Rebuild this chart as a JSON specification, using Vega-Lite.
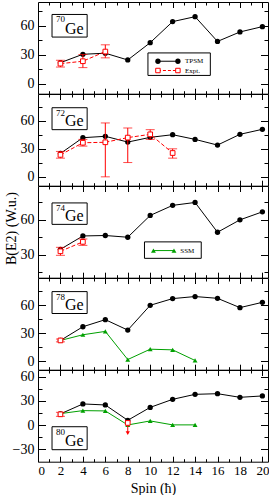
{
"$schema": "https://vega.github.io/schema/vega-lite/v6.json",
"padding": {"left": 3, "top": 1, "right": 0, "bottom": 0},
"background": "white",
"spacing": 0,
"bounds": "flush",
"resolve": {"scale": {"x": "independent", "y": "independent"}},
"config": {
 "concat": {"spacing": 0},
 "view": {"stroke": "black", "strokeWidth": 1},
 "axis": {"domain": false, "grid": false, "tickColor": "black", "tickWidth": 1, "labelFont": "Liberation Serif", "labelFontSize": 14, "labelColor": "black", "titleFont": "Liberation Serif", "titleFontSize": 14, "titleFontWeight": "normal", "titleColor": "black"},
 "text": {"font": "Liberation Serif", "color": "black"}
},
"datasets": {
 "tpsm": [
  {"nuc":"70Ge","spin":2,"b":22},{"nuc":"70Ge","spin":4,"b":30.7},{"nuc":"70Ge","spin":6,"b":31.8},{"nuc":"70Ge","spin":8,"b":24.8},{"nuc":"70Ge","spin":10,"b":42.7},{"nuc":"70Ge","spin":12,"b":64.5},{"nuc":"70Ge","spin":14,"b":69.6},{"nuc":"70Ge","spin":16,"b":44},{"nuc":"70Ge","spin":18,"b":53.8},{"nuc":"70Ge","spin":20,"b":59.3},
  {"nuc":"72Ge","spin":2,"b":25},{"nuc":"72Ge","spin":4,"b":41.9},{"nuc":"72Ge","spin":6,"b":43.4},{"nuc":"72Ge","spin":8,"b":37.2},{"nuc":"72Ge","spin":10,"b":42.3},{"nuc":"72Ge","spin":12,"b":45.1},{"nuc":"72Ge","spin":14,"b":40.1},{"nuc":"72Ge","spin":16,"b":34},{"nuc":"72Ge","spin":18,"b":45.5},{"nuc":"72Ge","spin":20,"b":50.9},
  {"nuc":"74Ge","spin":2,"b":34.6},{"nuc":"74Ge","spin":4,"b":46.1},{"nuc":"74Ge","spin":6,"b":46.5},{"nuc":"74Ge","spin":8,"b":45},{"nuc":"74Ge","spin":10,"b":63.8},{"nuc":"74Ge","spin":12,"b":72.5},{"nuc":"74Ge","spin":14,"b":75},{"nuc":"74Ge","spin":16,"b":49.3},{"nuc":"74Ge","spin":18,"b":60},{"nuc":"74Ge","spin":20,"b":66.9},
  {"nuc":"78Ge","spin":2,"b":22.3},{"nuc":"78Ge","spin":4,"b":37},{"nuc":"78Ge","spin":6,"b":44.6},{"nuc":"78Ge","spin":8,"b":33.4},{"nuc":"78Ge","spin":10,"b":60},{"nuc":"78Ge","spin":12,"b":67.2},{"nuc":"78Ge","spin":14,"b":69.4},{"nuc":"78Ge","spin":16,"b":67.5},{"nuc":"78Ge","spin":18,"b":57.5},{"nuc":"78Ge","spin":20,"b":63.2},
  {"nuc":"80Ge","spin":2,"b":13.9},{"nuc":"80Ge","spin":4,"b":26.3},{"nuc":"80Ge","spin":6,"b":25},{"nuc":"80Ge","spin":8,"b":6},{"nuc":"80Ge","spin":10,"b":22},{"nuc":"80Ge","spin":12,"b":32},{"nuc":"80Ge","spin":14,"b":38.2},{"nuc":"80Ge","spin":16,"b":39},{"nuc":"80Ge","spin":18,"b":34.5},{"nuc":"80Ge","spin":20,"b":36.2}
 ],
 "expt": [
  {"nuc":"70Ge","spin":2,"b":21},{"nuc":"70Ge","spin":4,"b":23.5},{"nuc":"70Ge","spin":6,"b":33.5},
  {"nuc":"72Ge","spin":2,"b":23.5},{"nuc":"72Ge","spin":4,"b":36.5},{"nuc":"72Ge","spin":6,"b":37},{"nuc":"72Ge","spin":8,"b":42},{"nuc":"72Ge","spin":10,"b":45.5},{"nuc":"72Ge","spin":12,"b":25.5},
  {"nuc":"74Ge","spin":2,"b":32.9},{"nuc":"74Ge","spin":4,"b":41},
  {"nuc":"78Ge","spin":2,"b":22.3},
  {"nuc":"80Ge","spin":2,"b":13.4}
 ],
 "err": [
  {"nuc":"70Ge","spin":2,"lo":17.5,"hi":24.5},{"nuc":"70Ge","spin":4,"lo":16.9,"hi":30.5},{"nuc":"70Ge","spin":6,"lo":27,"hi":40.5},
  {"nuc":"72Ge","spin":2,"lo":20,"hi":27.2},{"nuc":"72Ge","spin":4,"lo":32.9,"hi":40.1},{"nuc":"72Ge","spin":6,"lo":0,"hi":57.7},{"nuc":"72Ge","spin":8,"lo":15.3,"hi":52.3},{"nuc":"72Ge","spin":10,"lo":40.1,"hi":50.5},{"nuc":"72Ge","spin":12,"lo":20,"hi":30},
  {"nuc":"74Ge","spin":2,"lo":29.4,"hi":36.3},{"nuc":"74Ge","spin":4,"lo":38,"hi":43.5},
  {"nuc":"78Ge","spin":2,"lo":20.8,"hi":23.8},
  {"nuc":"80Ge","spin":2,"lo":10.9,"hi":15.9}
 ],
 "ssm": [
  {"nuc":"78Ge","spin":2,"b":22.3},{"nuc":"78Ge","spin":4,"b":28.4},{"nuc":"78Ge","spin":6,"b":32},{"nuc":"78Ge","spin":8,"b":1.8},{"nuc":"78Ge","spin":10,"b":12.9},{"nuc":"78Ge","spin":12,"b":12.2},{"nuc":"78Ge","spin":14,"b":0.8},
  {"nuc":"80Ge","spin":2,"b":14.3},{"nuc":"80Ge","spin":4,"b":18},{"nuc":"80Ge","spin":6,"b":17.6},{"nuc":"80Ge","spin":8,"b":0.2},{"nuc":"80Ge","spin":10,"b":5.2},{"nuc":"80Ge","spin":12,"b":0.3},{"nuc":"80Ge","spin":14,"b":0.3}
 ],
 "lim": [{"nuc":"80Ge","spin":8,"b":2.7,"lim":-10}]
},
"vconcat": [
 {
  "width": 230, "height": 91.7,
  "resolve": {"axis": {"x": "independent", "y": "independent"}},
  "layer": [
   {"data":{"name":"tpsm"},"transform":[{"filter":"datum.nuc=='70Ge'"}],"mark":{"type":"line","color":"black","strokeWidth":1},
    "encoding":{"x":{"field":"spin","type":"quantitative","scale":{"domain":[0,20.5],"nice":false,"zero":false},"axis":{"orient":"bottom","values":[2,4,6,8,10,12,14,16,18,20],"tickSize":-5.5,"labels":false,"title":null}},
     "y":{"field":"b","type":"quantitative","scale":{"domain":[-10.1,84.8],"nice":false,"zero":false},"axis":{"orient":"left","values":[0,30,60],"tickSize":-7.5,"labelPadding":11.5,"title":null}}}},
   {"data":{"name":"tpsm"},"transform":[{"filter":"datum.nuc=='70Ge'"}],"mark":{"type":"point","filled":true,"color":"black","size":28,"opacity":1},
    "encoding":{"x":{"field":"spin","type":"quantitative","axis":{"orient":"bottom","values":[1,3,5,7,9,11,13,15,17,19],"tickSize":-3,"labels":false,"title":null}},
     "y":{"field":"b","type":"quantitative","axis":{"orient":"left","values":[15,45,75],"tickSize":-4,"labels":false,"title":null}}}},
   {"data":{"name":"err"},"transform":[{"filter":"datum.nuc=='70Ge'"}],"mark":{"type":"errorbar","ticks":true,"size":9,"color":"#ff0000","thickness":1},
    "encoding":{"x":{"field":"spin","type":"quantitative","axis":null},"y":{"field":"lo","type":"quantitative","axis":null},"y2":{"field":"hi"}}},
   {"data":{"name":"expt"},"transform":[{"filter":"datum.nuc=='70Ge'"}],"mark":{"type":"line","color":"#ff0000","strokeWidth":1,"strokeDash":[4,2]},
    "encoding":{"x":{"field":"spin","type":"quantitative","axis":{"orient":"top","values":[2,4,6,8,10,12,14,16,18,20],"tickSize":-5.5,"labels":false,"title":null}},
     "y":{"field":"b","type":"quantitative","axis":{"orient":"right","values":[0,30,60],"tickSize":-7.5,"labels":false,"title":null}}}},
   {"data":{"name":"expt"},"transform":[{"filter":"datum.nuc=='70Ge'"}],"mark":{"type":"point","shape":"square","fill":"white","stroke":"#ff0000","strokeWidth":1,"size":22,"opacity":1},
    "encoding":{"x":{"field":"spin","type":"quantitative","axis":{"orient":"top","values":[1,3,5,7,9,11,13,15,17,19],"tickSize":-3,"labels":false,"title":null}},
     "y":{"field":"b","type":"quantitative","axis":{"orient":"right","values":[15,45,75],"tickSize":-4,"labels":false,"title":null}}}},
   {"data":{"values":[{}]},"mark":{"type":"rect","fill":"white","stroke":"black","strokeWidth":1},
    "encoding":{"x":{"datum":1.25,"type":"quantitative","axis":null},"x2":{"datum":4.38},"y":{"datum":71.9,"type":"quantitative","axis":null},"y2":{"datum":48.5}}},
   {"data":{"values":[{}]},"mark":{"type":"text","text":"70","fontSize":9,"align":"left","baseline":"alphabetic"},
    "encoding":{"x":{"datum":1.61,"type":"quantitative","axis":null},"y":{"datum":63.6,"type":"quantitative","axis":null}}},
   {"data":{"values":[{}]},"mark":{"type":"text","text":"Ge","fontSize":16,"align":"left","baseline":"alphabetic"},
    "encoding":{"x":{"datum":2.41,"type":"quantitative","axis":null},"y":{"datum":51.9,"type":"quantitative","axis":null}}},
   {"data":{"values":[{}]},"mark":{"type":"rect","fill":"white","stroke":"black","strokeWidth":1},
    "encoding":{"x":{"datum":9.8,"type":"quantitative","axis":null},"x2":{"datum":15.36},"y":{"datum":32.1,"type":"quantitative","axis":null},"y2":{"datum":8.8}}},
   {"data":{"values":[{}]},"mark":{"type":"rule","color":"black","strokeWidth":1},
    "encoding":{"x":{"datum":10.69,"type":"quantitative","axis":null},"x2":{"datum":12.47},"y":{"datum":23.5,"type":"quantitative","axis":null}}},
   {"data":{"values":[{}]},"mark":{"type":"point","filled":true,"color":"black","size":28,"opacity":1},
    "encoding":{"x":{"datum":10.69,"type":"quantitative","axis":null},"y":{"datum":23.5,"type":"quantitative","axis":null}}},
   {"data":{"values":[{}]},"mark":{"type":"point","filled":true,"color":"black","size":28,"opacity":1},
    "encoding":{"x":{"datum":12.47,"type":"quantitative","axis":null},"y":{"datum":23.5,"type":"quantitative","axis":null}}},
   {"data":{"values":[{}]},"mark":{"type":"text","text":"TPSM","fontSize":7,"align":"left","baseline":"middle"},
    "encoding":{"x":{"datum":13.1,"type":"quantitative","axis":null},"y":{"datum":23.5,"type":"quantitative","axis":null}}},
   {"data":{"values":[{}]},"mark":{"type":"rule","color":"#ff0000","strokeWidth":1,"strokeDash":[3,2]},
    "encoding":{"x":{"datum":10.69,"type":"quantitative","axis":null},"x2":{"datum":12.47},"y":{"datum":13.9,"type":"quantitative","axis":null}}},
   {"data":{"values":[{}]},"mark":{"type":"point","shape":"square","fill":"white","stroke":"#ff0000","strokeWidth":1,"size":20,"opacity":1},
    "encoding":{"x":{"datum":10.69,"type":"quantitative","axis":null},"y":{"datum":13.9,"type":"quantitative","axis":null}}},
   {"data":{"values":[{}]},"mark":{"type":"point","shape":"square","fill":"white","stroke":"#ff0000","strokeWidth":1,"size":20,"opacity":1},
    "encoding":{"x":{"datum":12.47,"type":"quantitative","axis":null},"y":{"datum":13.9,"type":"quantitative","axis":null}}},
   {"data":{"values":[{}]},"mark":{"type":"text","text":"Expt.","fontSize":7,"align":"left","baseline":"middle"},
    "encoding":{"x":{"datum":13.1,"type":"quantitative","axis":null},"y":{"datum":13.9,"type":"quantitative","axis":null}}}
  ]
 },
 {
  "width": 230, "height": 91.7,
  "resolve": {"axis": {"x": "independent", "y": "independent"}},
  "layer": [
   {"data":{"name":"tpsm"},"transform":[{"filter":"datum.nuc=='72Ge'"}],"mark":{"type":"line","color":"black","strokeWidth":1},
    "encoding":{"x":{"field":"spin","type":"quantitative","scale":{"domain":[0,20.5],"nice":false,"zero":false},"axis":{"orient":"bottom","values":[2,4,6,8,10,12,14,16,18,20],"tickSize":-5.5,"labels":false,"title":null}},
     "y":{"field":"b","type":"quantitative","scale":{"domain":[-9.5,88.7],"nice":false,"zero":false},"axis":{"orient":"left","values":[0,30,60],"tickSize":-7.5,"labelPadding":11.5,"title":null}}}},
   {"data":{"name":"tpsm"},"transform":[{"filter":"datum.nuc=='72Ge'"}],"mark":{"type":"point","filled":true,"color":"black","size":28,"opacity":1},
    "encoding":{"x":{"field":"spin","type":"quantitative","axis":{"orient":"bottom","values":[1,3,5,7,9,11,13,15,17,19],"tickSize":-3,"labels":false,"title":null}},
     "y":{"field":"b","type":"quantitative","axis":{"orient":"left","values":[15,45,75],"tickSize":-4,"labels":false,"title":null}}}},
   {"data":{"name":"err"},"transform":[{"filter":"datum.nuc=='72Ge'"}],"mark":{"type":"errorbar","ticks":true,"size":9,"color":"#ff0000","thickness":1},
    "encoding":{"x":{"field":"spin","type":"quantitative","axis":null},"y":{"field":"lo","type":"quantitative","axis":null},"y2":{"field":"hi"}}},
   {"data":{"name":"expt"},"transform":[{"filter":"datum.nuc=='72Ge'"}],"mark":{"type":"line","color":"#ff0000","strokeWidth":1,"strokeDash":[4,2]},
    "encoding":{"x":{"field":"spin","type":"quantitative","axis":{"orient":"top","values":[2,4,6,8,10,12,14,16,18,20],"tickSize":-5.5,"labels":false,"title":null}},
     "y":{"field":"b","type":"quantitative","axis":{"orient":"right","values":[0,30,60],"tickSize":-7.5,"labels":false,"title":null}}}},
   {"data":{"name":"expt"},"transform":[{"filter":"datum.nuc=='72Ge'"}],"mark":{"type":"point","shape":"square","fill":"white","stroke":"#ff0000","strokeWidth":1,"size":22,"opacity":1},
    "encoding":{"x":{"field":"spin","type":"quantitative","axis":{"orient":"top","values":[1,3,5,7,9,11,13,15,17,19],"tickSize":-3,"labels":false,"title":null}},
     "y":{"field":"b","type":"quantitative","axis":{"orient":"right","values":[15,45,75],"tickSize":-4,"labels":false,"title":null}}}},
   {"data":{"values":[{}]},"mark":{"type":"rect","fill":"white","stroke":"black","strokeWidth":1},
    "encoding":{"x":{"datum":1.25,"type":"quantitative","axis":null},"x2":{"datum":4.38},"y":{"datum":74.0,"type":"quantitative","axis":null},"y2":{"datum":50.5}}},
   {"data":{"values":[{}]},"mark":{"type":"text","text":"72","fontSize":9,"align":"left","baseline":"alphabetic"},
    "encoding":{"x":{"datum":1.61,"type":"quantitative","axis":null},"y":{"datum":65.1,"type":"quantitative","axis":null}}},
   {"data":{"values":[{}]},"mark":{"type":"text","text":"Ge","fontSize":16,"align":"left","baseline":"alphabetic"},
    "encoding":{"x":{"datum":2.41,"type":"quantitative","axis":null},"y":{"datum":53.9,"type":"quantitative","axis":null}}}
  ]
 },
 {
  "width": 230, "height": 91.7,
  "resolve": {"axis": {"x": "independent", "y": "independent"}},
  "layer": [
   {"data":{"name":"tpsm"},"transform":[{"filter":"datum.nuc=='74Ge'"}],"mark":{"type":"line","color":"black","strokeWidth":1},
    "encoding":{"x":{"field":"spin","type":"quantitative","scale":{"domain":[0,20.5],"nice":false,"zero":false},"axis":{"orient":"bottom","values":[2,4,6,8,10,12,14,16,18,20],"tickSize":-5.5,"labels":false,"title":null}},
     "y":{"field":"b","type":"quantitative","scale":{"domain":[10.1,89.2],"nice":false,"zero":false},"axis":{"orient":"left","values":[30,60],"tickSize":-7.5,"labelPadding":11.5,"title":"B(E2) (W.u.)","titleX":-27,"titleY":42,"titleBaseline":"middle","titleAlign":"center","titleAngle":-90}}}},
   {"data":{"name":"tpsm"},"transform":[{"filter":"datum.nuc=='74Ge'"}],"mark":{"type":"point","filled":true,"color":"black","size":28,"opacity":1},
    "encoding":{"x":{"field":"spin","type":"quantitative","axis":{"orient":"bottom","values":[1,3,5,7,9,11,13,15,17,19],"tickSize":-3,"labels":false,"title":null}},
     "y":{"field":"b","type":"quantitative","axis":{"orient":"left","values":[15,45,75],"tickSize":-4,"labels":false,"title":null}}}},
   {"data":{"name":"err"},"transform":[{"filter":"datum.nuc=='74Ge'"}],"mark":{"type":"errorbar","ticks":true,"size":9,"color":"#ff0000","thickness":1},
    "encoding":{"x":{"field":"spin","type":"quantitative","axis":null},"y":{"field":"lo","type":"quantitative","axis":null},"y2":{"field":"hi"}}},
   {"data":{"name":"expt"},"transform":[{"filter":"datum.nuc=='74Ge'"}],"mark":{"type":"line","color":"#ff0000","strokeWidth":1,"strokeDash":[4,2]},
    "encoding":{"x":{"field":"spin","type":"quantitative","axis":{"orient":"top","values":[2,4,6,8,10,12,14,16,18,20],"tickSize":-5.5,"labels":false,"title":null}},
     "y":{"field":"b","type":"quantitative","axis":{"orient":"right","values":[30,60],"tickSize":-7.5,"labels":false,"title":null}}}},
   {"data":{"name":"expt"},"transform":[{"filter":"datum.nuc=='74Ge'"}],"mark":{"type":"point","shape":"square","fill":"white","stroke":"#ff0000","strokeWidth":1,"size":22,"opacity":1},
    "encoding":{"x":{"field":"spin","type":"quantitative","axis":{"orient":"top","values":[1,3,5,7,9,11,13,15,17,19],"tickSize":-3,"labels":false,"title":null}},
     "y":{"field":"b","type":"quantitative","axis":{"orient":"right","values":[15,45,75],"tickSize":-4,"labels":false,"title":null}}}},
   {"data":{"values":[{}]},"mark":{"type":"rect","fill":"white","stroke":"black","strokeWidth":1},
    "encoding":{"x":{"datum":1.25,"type":"quantitative","axis":null},"x2":{"datum":4.38},"y":{"datum":74.6,"type":"quantitative","axis":null},"y2":{"datum":56.1}}},
   {"data":{"values":[{}]},"mark":{"type":"text","text":"74","fontSize":9,"align":"left","baseline":"alphabetic"},
    "encoding":{"x":{"datum":1.61,"type":"quantitative","axis":null},"y":{"datum":67.4,"type":"quantitative","axis":null}}},
   {"data":{"values":[{}]},"mark":{"type":"text","text":"Ge","fontSize":16,"align":"left","baseline":"alphabetic"},
    "encoding":{"x":{"datum":2.41,"type":"quantitative","axis":null},"y":{"datum":58.9,"type":"quantitative","axis":null}}},
   {"data":{"values":[{}]},"mark":{"type":"rect","fill":"white","stroke":"black","strokeWidth":1},
    "encoding":{"x":{"datum":9.49,"type":"quantitative","axis":null},"x2":{"datum":14.55},"y":{"datum":41.0,"type":"quantitative","axis":null},"y2":{"datum":26.8}}},
   {"data":{"values":[{}]},"mark":{"type":"rule","color":"#00a000","strokeWidth":1},
    "encoding":{"x":{"datum":10.29,"type":"quantitative","axis":null},"x2":{"datum":12.12},"y":{"datum":33.5,"type":"quantitative","axis":null}}},
   {"data":{"values":[{}]},"mark":{"type":"point","shape":"triangle-up","filled":true,"color":"#00a000","size":24,"opacity":1},
    "encoding":{"x":{"datum":10.29,"type":"quantitative","axis":null},"y":{"datum":33.5,"type":"quantitative","axis":null}}},
   {"data":{"values":[{}]},"mark":{"type":"point","shape":"triangle-up","filled":true,"color":"#00a000","size":24,"opacity":1},
    "encoding":{"x":{"datum":12.12,"type":"quantitative","axis":null},"y":{"datum":33.5,"type":"quantitative","axis":null}}},
   {"data":{"values":[{}]},"mark":{"type":"text","text":"SSM","fontSize":7,"align":"left","baseline":"middle"},
    "encoding":{"x":{"datum":12.68,"type":"quantitative","axis":null},"y":{"datum":33.5,"type":"quantitative","axis":null}}}
  ]
 },
 {
  "width": 230, "height": 91.7,
  "resolve": {"axis": {"x": "independent", "y": "independent"}},
  "layer": [
   {"data":{"name":"tpsm"},"transform":[{"filter":"datum.nuc=='78Ge'"}],"mark":{"type":"line","color":"black","strokeWidth":1},
    "encoding":{"x":{"field":"spin","type":"quantitative","scale":{"domain":[0,20.5],"nice":false,"zero":false},"axis":{"orient":"bottom","values":[2,4,6,8,10,12,14,16,18,20],"tickSize":-5.5,"labels":false,"title":null}},
     "y":{"field":"b","type":"quantitative","scale":{"domain":[-9.1,89.3],"nice":false,"zero":false},"axis":{"orient":"left","values":[0,30,60],"tickSize":-7.5,"labelPadding":11.5,"title":null}}}},
   {"data":{"name":"tpsm"},"transform":[{"filter":"datum.nuc=='78Ge'"}],"mark":{"type":"point","filled":true,"color":"black","size":28,"opacity":1},
    "encoding":{"x":{"field":"spin","type":"quantitative","axis":{"orient":"bottom","values":[1,3,5,7,9,11,13,15,17,19],"tickSize":-3,"labels":false,"title":null}},
     "y":{"field":"b","type":"quantitative","axis":{"orient":"left","values":[15,45,75],"tickSize":-4,"labels":false,"title":null}}}},
   {"data":{"name":"ssm"},"transform":[{"filter":"datum.nuc=='78Ge'"}],"mark":{"type":"line","color":"#00a000","strokeWidth":1},
    "encoding":{"x":{"field":"spin","type":"quantitative","axis":null},"y":{"field":"b","type":"quantitative","axis":null}}},
   {"data":{"name":"ssm"},"transform":[{"filter":"datum.nuc=='78Ge'"}],"mark":{"type":"point","shape":"triangle-up","filled":true,"color":"#00a000","size":24,"opacity":1},
    "encoding":{"x":{"field":"spin","type":"quantitative","axis":null},"y":{"field":"b","type":"quantitative","axis":null}}},
   {"data":{"name":"err"},"transform":[{"filter":"datum.nuc=='78Ge'"}],"mark":{"type":"errorbar","ticks":true,"size":9,"color":"#ff0000","thickness":1},
    "encoding":{"x":{"field":"spin","type":"quantitative","axis":null},"y":{"field":"lo","type":"quantitative","axis":null},"y2":{"field":"hi"}}},
   {"data":{"name":"expt"},"transform":[{"filter":"datum.nuc=='78Ge'"}],"mark":{"type":"line","color":"#ff0000","strokeWidth":1,"strokeDash":[4,2]},
    "encoding":{"x":{"field":"spin","type":"quantitative","axis":{"orient":"top","values":[2,4,6,8,10,12,14,16,18,20],"tickSize":-5.5,"labels":false,"title":null}},
     "y":{"field":"b","type":"quantitative","axis":{"orient":"right","values":[0,30,60],"tickSize":-7.5,"labels":false,"title":null}}}},
   {"data":{"name":"expt"},"transform":[{"filter":"datum.nuc=='78Ge'"}],"mark":{"type":"point","shape":"square","fill":"white","stroke":"#ff0000","strokeWidth":1,"size":22,"opacity":1},
    "encoding":{"x":{"field":"spin","type":"quantitative","axis":{"orient":"top","values":[1,3,5,7,9,11,13,15,17,19],"tickSize":-3,"labels":false,"title":null}},
     "y":{"field":"b","type":"quantitative","axis":{"orient":"right","values":[15,45,75],"tickSize":-4,"labels":false,"title":null}}}},
   {"data":{"values":[{}]},"mark":{"type":"rect","fill":"white","stroke":"black","strokeWidth":1},
    "encoding":{"x":{"datum":1.25,"type":"quantitative","axis":null},"x2":{"datum":4.38},"y":{"datum":74.7,"type":"quantitative","axis":null},"y2":{"datum":51.2}}},
   {"data":{"values":[{}]},"mark":{"type":"text","text":"78","fontSize":9,"align":"left","baseline":"alphabetic"},
    "encoding":{"x":{"datum":1.61,"type":"quantitative","axis":null},"y":{"datum":65.7,"type":"quantitative","axis":null}}},
   {"data":{"values":[{}]},"mark":{"type":"text","text":"Ge","fontSize":16,"align":"left","baseline":"alphabetic"},
    "encoding":{"x":{"datum":2.41,"type":"quantitative","axis":null},"y":{"datum":54.6,"type":"quantitative","axis":null}}}
  ]
 },
 {
  "width": 230, "height": 91.7,
  "resolve": {"axis": {"x": "independent", "y": "independent"}},
  "layer": [
   {"data":{"name":"tpsm"},"transform":[{"filter":"datum.nuc=='80Ge'"}],"mark":{"type":"line","color":"black","strokeWidth":1},
    "encoding":{"x":{"field":"spin","type":"quantitative","scale":{"domain":[0,20.5],"nice":false,"zero":false},"axis":{"orient":"bottom","values":[0,2,4,6,8,10,12,14,16,18,20],"tickSize":-5.5,"labels":true,"labelFontSize":13,"labelPadding":8.5,"title":"Spin (ħ)","titleY":27,"titleBaseline":"middle"}},
     "y":{"field":"b","type":"quantitative","scale":{"domain":[-45.4,68.4],"nice":false,"zero":false},"axis":{"orient":"left","values":[-30,0,30,60],"tickSize":-7.5,"labelPadding":11.5,"title":null}}}},
   {"data":{"name":"tpsm"},"transform":[{"filter":"datum.nuc=='80Ge'"}],"mark":{"type":"point","filled":true,"color":"black","size":28,"opacity":1},
    "encoding":{"x":{"field":"spin","type":"quantitative","axis":{"orient":"bottom","values":[1,3,5,7,9,11,13,15,17,19],"tickSize":-3,"labels":false,"title":null}},
     "y":{"field":"b","type":"quantitative","axis":{"orient":"left","values":[-15,15,45],"tickSize":-4,"labels":false,"title":null}}}},
   {"data":{"name":"ssm"},"transform":[{"filter":"datum.nuc=='80Ge'"}],"mark":{"type":"line","color":"#00a000","strokeWidth":1},
    "encoding":{"x":{"field":"spin","type":"quantitative","axis":null},"y":{"field":"b","type":"quantitative","axis":null}}},
   {"data":{"name":"ssm"},"transform":[{"filter":"datum.nuc=='80Ge'"}],"mark":{"type":"point","shape":"triangle-up","filled":true,"color":"#00a000","size":24,"opacity":1},
    "encoding":{"x":{"field":"spin","type":"quantitative","axis":null},"y":{"field":"b","type":"quantitative","axis":null}}},
   {"data":{"name":"err"},"transform":[{"filter":"datum.nuc=='80Ge'"}],"mark":{"type":"errorbar","ticks":true,"size":9,"color":"#ff0000","thickness":1},
    "encoding":{"x":{"field":"spin","type":"quantitative","axis":null},"y":{"field":"lo","type":"quantitative","axis":null},"y2":{"field":"hi"}}},
   {"data":{"name":"lim"},"mark":{"type":"rule","color":"#ff0000","strokeWidth":1},
    "encoding":{"x":{"field":"spin","type":"quantitative","axis":null},"y":{"field":"b","type":"quantitative","axis":null},"y2":{"field":"lim"}}},
   {"data":{"name":"lim"},"mark":{"type":"point","shape":"triangle-down","filled":true,"color":"#ff0000","size":18,"opacity":1},
    "encoding":{"x":{"field":"spin","type":"quantitative","axis":null},"y":{"field":"lim","type":"quantitative","axis":null}}},
   {"data":{"name":"expt"},"transform":[{"filter":"datum.nuc=='80Ge'"}],"mark":{"type":"line","color":"#ff0000","strokeWidth":1,"strokeDash":[4,2]},
    "encoding":{"x":{"field":"spin","type":"quantitative","axis":{"orient":"top","values":[2,4,6,8,10,12,14,16,18,20],"tickSize":-5.5,"labels":false,"title":null}},
     "y":{"field":"b","type":"quantitative","axis":{"orient":"right","values":[-30,0,30,60],"tickSize":-7.5,"labels":false,"title":null}}}},
   {"data":{"name":"expt"},"transform":[{"filter":"datum.nuc=='80Ge'"}],"mark":{"type":"point","shape":"square","fill":"white","stroke":"#ff0000","strokeWidth":1,"size":22,"opacity":1},
    "encoding":{"x":{"field":"spin","type":"quantitative","axis":{"orient":"top","values":[1,3,5,7,9,11,13,15,17,19],"tickSize":-3,"labels":false,"title":null}},
     "y":{"field":"b","type":"quantitative","axis":{"orient":"right","values":[-15,15,45],"tickSize":-4,"labels":false,"title":null}}}},
   {"data":{"name":"lim"},"mark":{"type":"point","shape":"square","fill":"white","stroke":"#ff0000","strokeWidth":1,"size":22,"opacity":1},
    "encoding":{"x":{"field":"spin","type":"quantitative","axis":null},"y":{"field":"b","type":"quantitative","axis":null}}},
   {"data":{"values":[{}]},"mark":{"type":"rect","fill":"white","stroke":"black","strokeWidth":1},
    "encoding":{"x":{"datum":1.25,"type":"quantitative","axis":null},"x2":{"datum":4.38},"y":{"datum":-2.0,"type":"quantitative","axis":null},"y2":{"datum":-30.5}}},
   {"data":{"values":[{}]},"mark":{"type":"text","text":"80","fontSize":9,"align":"left","baseline":"alphabetic"},
    "encoding":{"x":{"datum":1.61,"type":"quantitative","axis":null},"y":{"datum":-12.4,"type":"quantitative","axis":null}}},
   {"data":{"values":[{}]},"mark":{"type":"text","text":"Ge","fontSize":16,"align":"left","baseline":"alphabetic"},
    "encoding":{"x":{"datum":2.41,"type":"quantitative","axis":null},"y":{"datum":-26.5,"type":"quantitative","axis":null}}}
  ]
 }
]
}
